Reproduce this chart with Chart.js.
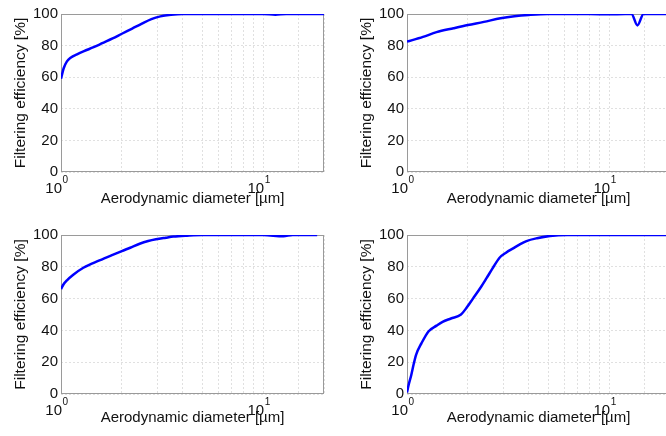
<!DOCTYPE html>
<html>
<head>
<meta charset="utf-8">
<script src="https://cdn.jsdelivr.net/npm/chart.js@4/dist/chart.umd.min.js"></script>
<style>
  html, body { margin: 0; padding: 0; background: #fff; overflow: hidden; width: 666px; height: 436px; }
  canvas { position: absolute; }
</style>
</head>
<body>
<canvas id="c1" width="333" height="218" style="left:0;top:0"></canvas>
<canvas id="c2" width="340" height="218" style="left:333px;top:0"></canvas>
<canvas id="c3" width="333" height="218" style="left:0;top:218px"></canvas>
<canvas id="c4" width="340" height="218" style="left:333px;top:218px"></canvas>
<script>
// dados (diâmetro aerodinâmico em µm, eficiência em %)
const diamA = [1.0, 1.03, 1.07, 1.12, 1.2, 1.3, 1.45, 1.6, 1.8, 2.0, 2.25, 2.5, 2.8, 3.1, 3.5, 4.0, 5, 6, 8, 10, 11.5, 13, 16, 20];
const effA  = [59, 65.5, 70, 72.5, 74.5, 76.5, 79, 81.5, 84.5, 87.5, 90.8, 93.8, 96.8, 98.5, 99.5, 100, 100, 100, 100, 100, 99.6, 100, 100, 100];

const diamB = [1.0, 1.2, 1.4, 1.7, 2.0, 2.4, 2.9, 3.4, 4.0, 5, 6, 8, 10, 12, 12.9, 13.8, 14.8, 17, 20];
const effB  = [82.5, 85.5, 88.5, 91, 93, 95, 97.3, 98.6, 99.4, 100, 100, 100, 99.8, 100, 100, 92.8, 100, 100, 100];

const diamC = [1.0, 1.03, 1.07, 1.15, 1.29, 1.55, 1.8, 2.0, 2.2, 2.45, 2.7, 2.95, 3.3, 3.6, 4.2, 5, 6, 8, 10, 12.6, 14, 16, 18.5];
const effC  = [66, 69, 71.5, 75, 79.4, 84, 87.5, 89.9, 92, 94.5, 96.2, 97.3, 98.3, 99, 99.6, 100, 100, 100, 100, 99.2, 100, 100, 100];

const diamD = [1.0, 1.02, 1.05, 1.08, 1.11, 1.18, 1.28, 1.4, 1.5, 1.65, 1.85, 1.97, 2.12, 2.3, 2.47, 2.65, 2.87, 3.1, 3.35, 3.6, 3.9, 4.4, 5.1, 6.2, 8, 10, 13, 16, 20];
const effD  = [1, 6, 12, 19, 24.8, 32, 39.5, 43, 45.4, 47.5, 50, 54.2, 60, 66.5, 72.7, 79, 85.7, 89, 91.6, 94, 96.2, 98, 99.4, 100, 100, 100, 100, 100, 100];

const yTicks = [0, 20, 40, 60, 80, 100];
const xLabels = [{ value: 1, base: '10', exp: '0' }, { value: 10, base: '10', exp: '1' }];
const xTitle = 'Aerodynamic diameter [\u00b5m]';
const yTitle = 'Filtering efficiency [%]';

const FONT = 'Arial, "Liberation Sans", sans-serif';

// caixa cinza à volta da área do gráfico (estilo MATLAB)
const boxPlugin = {
    id: 'box',
    beforeDatasetsDraw(chart) {
        const a = chart.chartArea, ctx = chart.ctx;
        ctx.save();
        ctx.strokeStyle = '#9a9a9a';
        ctx.lineWidth = 1;
        ctx.strokeRect(Math.round(a.left) + 0.5, Math.round(a.top) + 0.5, Math.round(a.right - a.left) - 1, Math.round(a.bottom - a.top) - 1);
        ctx.restore();
    }
};

// rótulos 10^0 e 10^1 com expoente
const powerLabels = {
    id: 'powerLabels',
    afterDraw(chart) {
        const sx = chart.scales.x, ctx = chart.ctx;
        const y0 = chart.chartArea.bottom;
        ctx.save();
        ctx.fillStyle = '#111';
        xLabels.forEach(l => {
            const px = sx.getPixelForValue(l.value);
            ctx.font = '15px ' + FONT;
            ctx.textAlign = 'right';
            ctx.textBaseline = 'alphabetic';
            ctx.fillText(l.base, px + 1, y0 + 21);
            ctx.font = '10px ' + FONT;
            ctx.textAlign = 'left';
            ctx.fillText(l.exp, px + 1.5, y0 + 11);
        });
        ctx.restore();
    }
};

function makeChart(id, diam, eff, opts) {
    const points = diam.map((d, i) => ({ x: d, y: eff[i] }));
    return new Chart(document.getElementById(id), {
        type: 'line',
        data: {
            datasets: [{
                data: points,
                borderColor: '#0000ff',
                borderWidth: 2.5,
                pointRadius: 0,
                cubicInterpolationMode: 'monotone',
                fill: false
            }]
        },
        options: {
            responsive: false,
            animation: false,
            devicePixelRatio: 1,
            layout: { padding: { left: 0, top: opts.top, right: opts.right, bottom: 0 } },
            plugins: { legend: { display: false }, tooltip: { enabled: false } },
            scales: {
                x: {
                    type: 'logarithmic',
                    min: 1,
                    max: 20,
                    ticks: { display: false, autoSkip: false },
                    grid: { color: '#e0e0e0', drawTicks: false },
                    border: { display: false, dash: [2, 2] },
                    title: {
                        display: true,
                        text: xTitle,
                        color: '#111',
                        font: { size: 15, family: FONT },
                        padding: { top: 0, bottom: opts.xTitlePad }
                    },
                    afterFit(scale) { scale.height = opts.xHeight; }
                },
                y: {
                    min: 0,
                    max: 100,
                    afterBuildTicks(scale) { scale.ticks = yTicks.map(v => ({ value: v })); },
                    ticks: { color: '#111', padding: 3, font: { size: 15, family: FONT } },
                    grid: { color: '#e0e0e0', drawTicks: false },
                    border: { display: false, dash: [2, 2] },
                    title: {
                        display: true,
                        text: yTitle,
                        color: '#111',
                        font: { size: 15.5, family: FONT },
                        padding: { top: opts.yTitlePad, bottom: 0 }
                    },
                    afterFit(scale) { scale.width = opts.yWidth; }
                }
            }
        },
        plugins: [boxPlugin, powerLabels]
    });
}

makeChart('c1', diamA, effA, { top: 14, right: 9, xHeight: 46, yWidth: 61, xTitlePad: 10, yTitlePad: 11 });
makeChart('c2', diamB, effB, { top: 14, right: 3, xHeight: 46, yWidth: 74, xTitlePad: 10, yTitlePad: 24 });
makeChart('c3', diamC, effC, { top: 17, right: 9, xHeight: 42, yWidth: 61, xTitlePad: 9, yTitlePad: 11 });
makeChart('c4', diamD, effD, { top: 17, right: 3, xHeight: 42, yWidth: 74, xTitlePad: 9, yTitlePad: 24 });
</script>
</body>
</html>
